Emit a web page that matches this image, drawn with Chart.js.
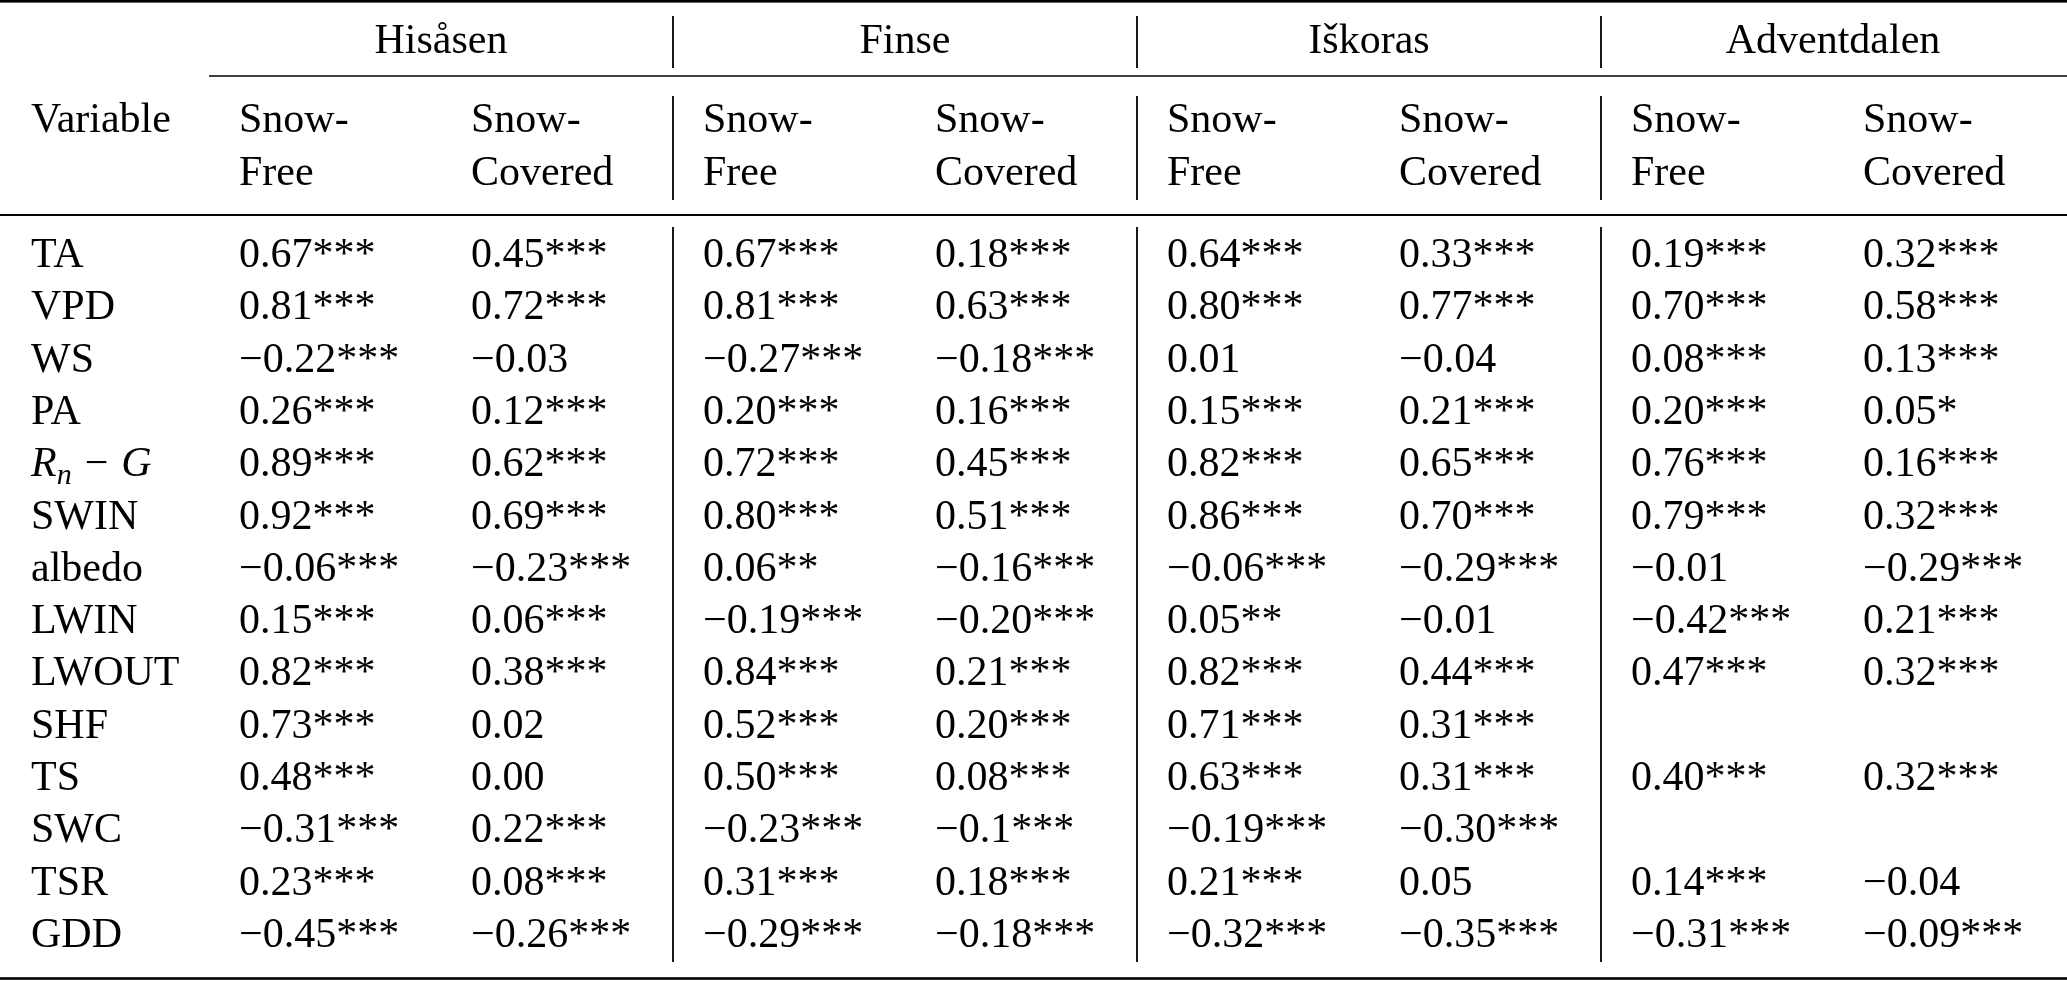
<!DOCTYPE html>
<html>
<head>
<meta charset="utf-8">
<script src="https://cdn.jsdelivr.net/npm/chart.js@4/dist/chart.umd.min.js"></script>
<style>
  html, body { margin: 0; padding: 0; background: #fff; }
  #wrap { width: 2067px; height: 981px; }
</style>
</head>
<body>
<div id="wrap"><canvas id="tableChart"></canvas></div>
<script>
// table content
var sites = ['Hisåsen', 'Finse', 'Iškoras', 'Adventdalen'];
var subHeaders = [['Snow-', 'Free'], ['Snow-', 'Covered']];
var variables = ['TA', 'VPD', 'WS', 'PA', 'Rn-G', 'SWIN', 'albedo', 'LWIN', 'LWOUT', 'SHF', 'TS', 'SWC', 'TSR', 'GDD'];

var hisasenFree    = ['0.67', '0.81', '-0.22', '0.26', '0.89', '0.92', '-0.06', '0.15', '0.82', '0.73', '0.48', '-0.31', '0.23', '-0.45'];
var hisasenFreeSig = ['***', '***', '***', '***', '***', '***', '***', '***', '***', '***', '***', '***', '***', '***'];
var hisasenCov     = ['0.45', '0.72', '-0.03', '0.12', '0.62', '0.69', '-0.23', '0.06', '0.38', '0.02', '0.00', '0.22', '0.08', '-0.26'];
var hisasenCovSig  = ['***', '***', '', '***', '***', '***', '***', '***', '***', '', '', '***', '***', '***'];
var finseFree      = ['0.67', '0.81', '-0.27', '0.20', '0.72', '0.80', '0.06', '-0.19', '0.84', '0.52', '0.50', '-0.23', '0.31', '-0.29'];
var finseFreeSig   = ['***', '***', '***', '***', '***', '***', '**', '***', '***', '***', '***', '***', '***', '***'];
var finseCov       = ['0.18', '0.63', '-0.18', '0.16', '0.45', '0.51', '-0.16', '-0.20', '0.21', '0.20', '0.08', '-0.1', '0.18', '-0.18'];
var finseCovSig    = ['***', '***', '***', '***', '***', '***', '***', '***', '***', '***', '***', '***', '***', '***'];
var iskorasFree    = ['0.64', '0.80', '0.01', '0.15', '0.82', '0.86', '-0.06', '0.05', '0.82', '0.71', '0.63', '-0.19', '0.21', '-0.32'];
var iskorasFreeSig = ['***', '***', '', '***', '***', '***', '***', '**', '***', '***', '***', '***', '***', '***'];
var iskorasCov     = ['0.33', '0.77', '-0.04', '0.21', '0.65', '0.70', '-0.29', '-0.01', '0.44', '0.31', '0.31', '-0.30', '0.05', '-0.35'];
var iskorasCovSig  = ['***', '***', '', '***', '***', '***', '***', '', '***', '***', '***', '***', '', '***'];
var adventFree     = ['0.19', '0.70', '0.08', '0.20', '0.76', '0.79', '-0.01', '-0.42', '0.47', null, '0.40', null, '0.14', '-0.31'];
var adventFreeSig  = ['***', '***', '***', '***', '***', '***', '', '***', '***', '', '***', '', '***', '***'];
var adventCov      = ['0.32', '0.58', '0.13', '0.05', '0.16', '0.32', '-0.29', '0.21', '0.32', null, '0.32', null, '-0.04', '-0.09'];
var adventCovSig   = ['***', '***', '***', '*', '***', '***', '***', '***', '***', '', '***', '', '', '***'];

var columns = [
    [hisasenFree, hisasenFreeSig], [hisasenCov, hisasenCovSig],
    [finseFree, finseFreeSig], [finseCov, finseCovSig],
    [iskorasFree, iskorasFreeSig], [iskorasCov, iskorasCovSig],
    [adventFree, adventFreeSig], [adventCov, adventCovSig]
];
var columnKeys = columns.map(function (c, i) { return 'col' + i; });

var FONT = '"Liberation Serif", "DejaVu Serif", serif';
var SIZE = 42;

function fmt(v) {
    return v.replace('-', '\u2212');
}

var datasets = columns.map(function (col, c) {
    return {
        label: columnKeys[c],
        data: variables.map(function (v, r) {
            return { x: columnKeys[c], y: v, text: col[0][r], sig: col[1][r] };
        }),
        pointRadius: 0,
        pointHoverRadius: 0
    };
});

function hline(ctx, x1, x2, y, w) {
    ctx.fillRect(x1, y - w / 2, x2 - x1, w);
}
function vline(ctx, x, y1, y2, w) {
    ctx.fillRect(x - w / 2, y1, w, y2 - y1);
}

var tablePlugin = {
    id: 'tableText',
    afterDatasetsDraw: function (chart) {
        var ctx = chart.ctx;
        var a = chart.chartArea;
        var xs = chart.scales.x, ys = chart.scales.y;
        var W = chart.width;
        var band = xs.width / columnKeys.length;
        var pad = 30;
        var labelX = 31;
        var font = SIZE + 'px ' + FONT;
        var italic = 'italic ' + SIZE + 'px ' + FONT;

        ctx.save();
        ctx.fillStyle = '#000';
        ctx.textBaseline = 'alphabetic';

        // rules
        hline(ctx, 0, W, 1.3, 2.6);
        hline(ctx, a.left, W, 76, 1.5);
        hline(ctx, 0, W, 215, 2);
        hline(ctx, 0, W, 978.5, 2.6);

        // group separators
        for (var g = 1; g < sites.length; g++) {
            var sx = xs.getPixelForValue(2 * g) - band / 2;
            vline(ctx, sx, 16, 68, 1.8);
            vline(ctx, sx, 96, 200, 1.8);
            vline(ctx, sx, a.top, a.bottom + 3, 1.8);
        }

        // group headers
        ctx.font = font;
        ctx.textAlign = 'center';
        sites.forEach(function (s, g) {
            var cx = (xs.getPixelForValue(2 * g) + xs.getPixelForValue(2 * g + 1)) / 2;
            ctx.fillText(s, cx, 53);
        });

        // sub headers
        ctx.textAlign = 'left';
        ctx.fillText('Variable', labelX, 132);
        columnKeys.forEach(function (k, c) {
            var lx = xs.getPixelForValue(c) - band / 2 + pad;
            var sh = subHeaders[c % 2];
            ctx.fillText(sh[0], lx, 132);
            ctx.fillText(sh[1], lx, 185);
        });

        // row labels
        variables.forEach(function (v, r) {
            var by = ys.getPixelForValue(r) + 14;
            if (v === 'Rn-G') {
                var x0 = labelX;
                ctx.font = italic;
                ctx.fillText('R', x0, by);
                x0 += ctx.measureText('R').width;
                ctx.font = 'italic 30px ' + FONT;
                ctx.fillText('n', x0, by + 8);
                x0 += ctx.measureText('n').width + 13;
                ctx.font = font;
                ctx.fillText('\u2212', x0, by);
                x0 += ctx.measureText('\u2212').width + 13;
                ctx.font = italic;
                ctx.fillText('G', x0, by);
                ctx.font = font;
            } else {
                ctx.fillText(v, labelX, by);
            }
        });

        // cells
        chart.data.datasets.forEach(function (ds, c) {
            var meta = chart.getDatasetMeta(c);
            meta.data.forEach(function (el, r) {
                var d = ds.data[r];
                if (d.text === null) return;
                ctx.fillText(fmt(d.text) + d.sig, el.x - band / 2 + pad, el.y + 14);
            });
        });

        ctx.restore();
    }
};

var ctx = document.getElementById('tableChart').getContext('2d');
var tableChart = new Chart(ctx, {
    type: 'scatter',
    data: { datasets: datasets },
    options: {
        responsive: true,
        maintainAspectRatio: false,
        animation: false,
        events: [],
        layout: { padding: { left: 209, right: 2, top: 227, bottom: 22 } },
        plugins: { legend: { display: false }, tooltip: { enabled: false } },
        scales: {
            x: { type: 'category', labels: columnKeys, offset: true, display: false },
            y: { type: 'category', labels: variables, offset: true, display: false }
        }
    },
    plugins: [tablePlugin]
});
</script>
</body>
</html>
